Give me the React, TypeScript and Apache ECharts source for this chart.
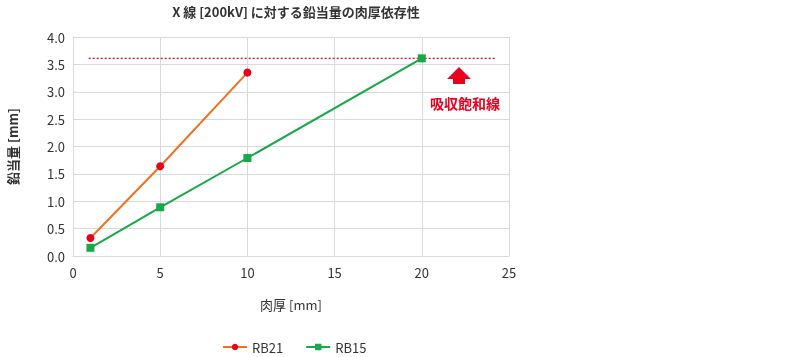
import React, { useEffect, useRef } from "react";
import * as echarts from "echarts";

const rb21X = [1, 5, 10];
const rb21Y = [0.33, 1.64, 3.35];
const rb15X = [1, 5, 10, 20];
const rb15Y = [0.15, 0.89, 1.79, 3.61];
const saturationX = [0.9, 24.2];
const saturationY = [3.61, 3.61];

const FONT = "'Noto Sans CJK JP', 'Noto Sans', sans-serif";

export default function App() {
  const ref = useRef<HTMLDivElement>(null);
  useEffect(() => {
    if (!ref.current) return;
    const chart = echarts.init(ref.current, undefined, { renderer: "svg" });
    const zip = (xs: number[], ys: number[]) => xs.map((x, i) => [x, ys[i]]);
    chart.setOption({
      animation: false,
      textStyle: { fontFamily: FONT },
      title: {
        text: "X 線 [200kV] に対する鉛当量の肉厚依存性",
        left: 291,
        textAlign: "center",
        top: 0,
        textStyle: { fontSize: 13, fontWeight: "bold", color: "#333", fontFamily: FONT },
      },
      grid: {
        left: 73,
        right: 291,
        top: 37,
        bottom: 101,
        containLabel: false,
        outerBoundsMode: "none",
      },
      xAxis: {
        type: "value",
        min: 0,
        max: 25,
        interval: 5,
        name: "肉厚 [mm]",
        nameLocation: "middle",
        nameGap: 42,
        nameTextStyle: { fontSize: 13, color: "#333", fontFamily: FONT },
        axisLine: { show: true, lineStyle: { color: "#d9d9d9" } },
        axisTick: { show: false },
        axisLabel: { fontSize: 13, color: "#333", margin: 10, fontFamily: FONT },
        splitLine: { show: true, lineStyle: { color: "#d9d9d9" } },
      },
      yAxis: {
        type: "value",
        min: 0,
        max: 4,
        interval: 0.5,
        name: "鉛当量 [mm]",
        nameLocation: "middle",
        nameGap: 54,
        nameTextStyle: { fontSize: 13, color: "#333", fontFamily: FONT, fontWeight: "bold" },
        axisLine: { show: true, lineStyle: { color: "#d9d9d9" } },
        axisTick: { show: false },
        axisLabel: {
          fontSize: 13,
          color: "#333",
          margin: 8,
          fontFamily: FONT,
          formatter: (v: number) => v.toFixed(1),
        },
        splitLine: { show: true, lineStyle: { color: "#d9d9d9" } },
      },
      legend: {
        top: 340,
        left: 222,
        padding: 0,
        itemGap: 22,
        itemWidth: 24,
        itemHeight: 8,
        textStyle: { fontSize: 13, lineHeight: 14, color: "#333", fontFamily: FONT },
        data: ["RB21", "RB15"],
      },
      series: [
        {
          name: "RB21",
          type: "line",
          data: zip(rb21X, rb21Y),
          lineStyle: { color: "#f07020", width: 2 },
          itemStyle: { color: "#e8001c" },
          symbol: "circle",
          symbolSize: 8,
          z: 3,
        },
        {
          name: "RB15",
          type: "line",
          data: zip(rb15X, rb15Y),
          lineStyle: { color: "#18a848", width: 2 },
          itemStyle: { color: "#18a848" },
          symbol: "rect",
          symbolSize: 8,
          z: 4,
        },
        {
          name: "吸収飽和線",
          type: "line",
          data: zip(saturationX, saturationY),
          symbol: "none",
          lineStyle: { color: "#e8001c", width: 1.2, type: [2, 2] },
          z: 2,
        },
      ],
      graphic: [
        {
          type: "polygon",
          shape: {
            points: [
              [447, 79],
              [459, 67],
              [471, 79],
              [465, 79],
              [465, 84],
              [453, 84],
              [453, 79],
            ],
          },
          style: { fill: "#e8001c" },
        },
        {
          type: "text",
          x: 465,
          y: 103,
          style: {
            text: "吸収飽和線",
            fill: "#e8001c",
            font: `bold 14px ${FONT}`,
            textAlign: "center",
            textVerticalAlign: "middle",
          },
        },
      ],
    });
    return () => chart.dispose();
  }, []);
  return (
    <div
      ref={ref}
      style={{ position: "fixed", left: 0, top: 0, width: 800, height: 357 }}
    />
  );
}
